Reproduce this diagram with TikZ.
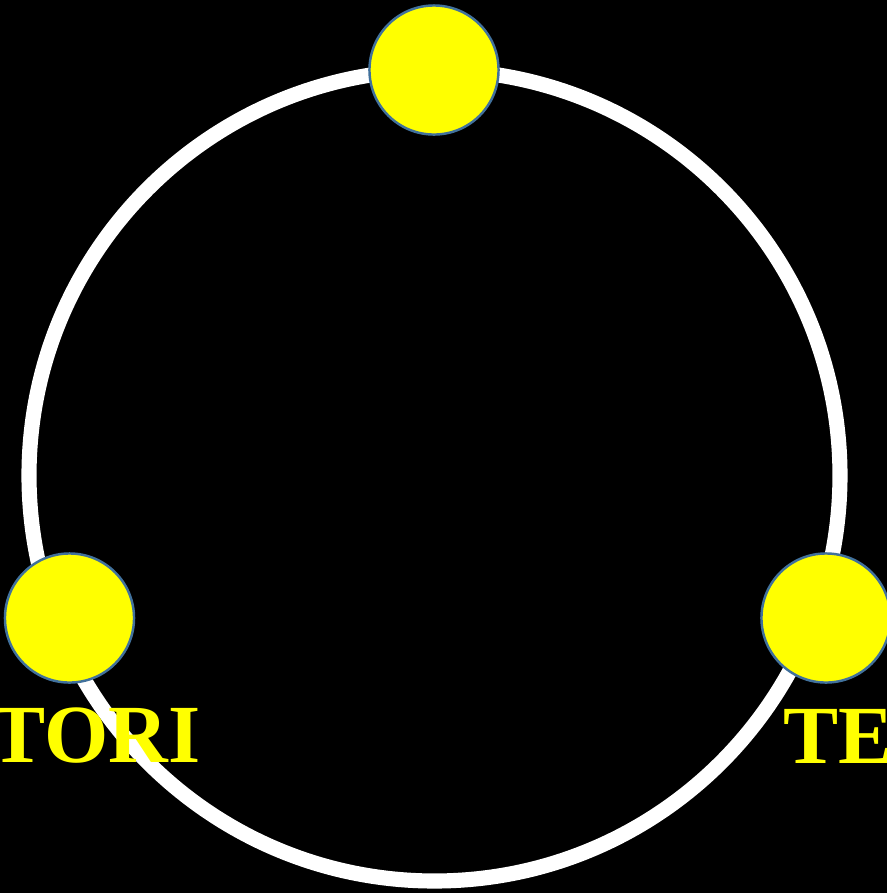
\documentclass[tikz,border=0pt]{standalone}
\usepackage{fontspec}
\setmainfont{Liberation Serif}
\definecolor{ballyellow}{RGB}{255,255,0}
\definecolor{balledge}{RGB}{65,113,156}
\tikzset{
  ball/.style={circle,fill=ballyellow,draw=balledge,line width=0.7pt,
    minimum size=1.29cm,inner sep=0pt},
  tag/.style={text=ballyellow,font=\bfseries\fontsize{23.5}{26}\selectfont,
    inner sep=0pt,anchor=base west}
}
\begin{document}
\begin{tikzpicture}[x=0.01cm,y=-0.01cm]
  \useasboundingbox (0,0) rectangle (887,893);
  \fill[black] (0,0) rectangle (887,893);
  \clip (0,0) rectangle (887,893);
  % orbit
  \draw[white,line width=4.3pt] (434.5,475.5) circle (405.5);
  % balls
  \node[ball] (topball) at (434,70) {};
  \node[ball] (leftball) at (69.5,618) {};
  \node[ball] (rightball) at (826,618) {};
  % labels
  \node[tag] (lefttag) at (-10,762) {TORI};
  \node[tag] (righttag) at (783,763) {TE};
\end{tikzpicture}
\end{document}
